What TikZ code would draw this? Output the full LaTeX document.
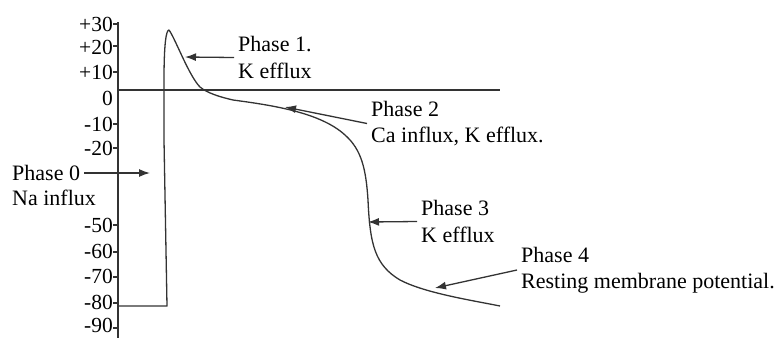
\documentclass[tikz,border=0pt]{standalone}
\usepackage{fontspec}
\setmainfont{Liberation Serif}
\usetikzlibrary{arrows.meta}
\begin{document}
\begin{tikzpicture}[x=1pt,y=-1pt,
 line/.style={draw=black!80, line width=1.3pt},
 arr/.style={line, -{Latex[length=11pt,width=8pt]}},
 lbl/.style={font=\fontsize{22}{26.5}\selectfont, align=left, anchor=west, inner sep=0pt, inner xsep=4pt, text=black},
 ticklbl/.style={font=\fontsize{21.5}{24}\selectfont, anchor=base east, inner sep=0pt, text=black},
]
\useasboundingbox (0,0) rectangle (781,338);
% axis
\coordinate (atop) at (118,22);
\coordinate (abot) at (118,338);
\draw[line] (atop) -- (abot);
% tick labels
\foreach \c/\t [count=\i] in {24/+30, 47/+20, 72/+10, 98/0, 124/-10, 148/-20, 225/-50, 251/-60, 276/-70, 302/-80, 325/-90}
  \node[ticklbl] (l\i) at (113,\c+7) {\t};
% tick marks
\foreach \c in {24,46,72,124,148,225,252,277,303,328}
  \draw[line] (113,\c) -- (118,\c);
% zero line
\coordinate (z0) at (118,90);
\coordinate (z1) at (500,90);
\draw[line] (z0) -- (z1);
% action potential curve
\coordinate (base) at (118,306);
\draw[line, line join=round] (base) -- (167,306) -- (164,140) -- (164,80)
  .. controls (164,45) and (166,30) .. (169,30)
  .. controls (175,38) and (189,76) .. (200,87)
  .. controls (207,93) and (220,97) .. (233,100)
  .. controls (270,105) and (320,112) .. (345,135)
  .. controls (362,150) and (366,170) .. (368,200)
  .. controls (370,245) and (375,265) .. (400,280)
  .. controls (425,293) and (470,300) .. (500,306);
% arrow targets
\coordinate (tip0) at (150,173);
\coordinate (tip1) at (185,57);
\coordinate (tip2) at (285,107);
\coordinate (tip3) at (368,222);
\coordinate (tip4) at (435,288);
% labels
\node[lbl] (p0a) at (8,173) {Phase 0};
\node[lbl] (p0b) at (8,198) {Na influx};
\node[lbl] (p1) at (234,57.5) {Phase 1.\\K efflux};
\node[lbl] (p2) at (367,123.5) {Phase 2\\Ca influx, K efflux.};
\node[lbl] (p3) at (417,221.5) {Phase 3\\K efflux};
\node[lbl] (p4) at (517,270) {Phase 4\\Resting membrane potential.};
% arrows
\draw[arr] (p0a.east) -- (tip0);
\draw[arr] (p1.west) -- (tip1);
\draw[arr] (p2.west) -- (tip2);
\draw[arr] (p3.west) -- (tip3);
\draw[arr] (p4.west) -- (tip4);
\end{tikzpicture}
\end{document}
